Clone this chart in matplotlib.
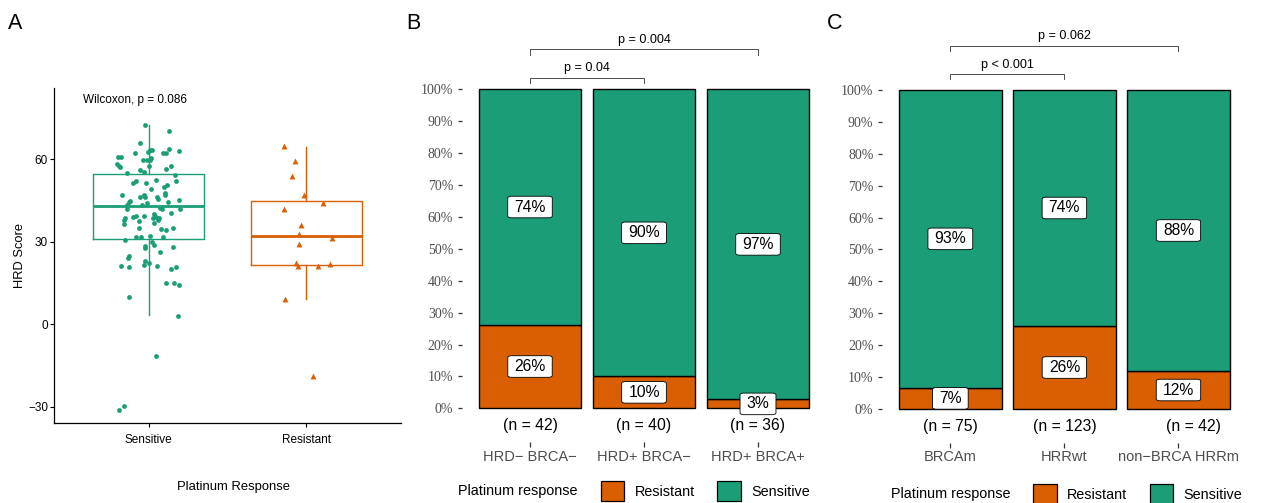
import matplotlib
matplotlib.use("Agg")
import matplotlib.pyplot as plt
from matplotlib.patches import Patch
import numpy as np

plt.rcParams['font.family'] = ['Liberation Sans', 'DejaVu Sans']

GREEN = '#1B9E77'
ORANGE = '#D95F02'
GREY_TXT = '#4D4D4D'

# ---- panel A: HRD score by platinum response ----
a_groups = ['Sensitive', 'Resistant']
sens_hrd = [72.4, 70.1, 65.9, 63.3, 63.2, 62.4, 62.3, 62.3, 63.5, 63.0,
            62.1, 60.6, 60.6, 59.8, 59.6, 59.7, 60.2, 58.1, 57.5, 57.0,
            57.5, 57.5, 56.0, 55.3, 56.2, 54.9, 54.3, 52.1, 51.2, 52.4,
            52.0, 51.4, 50.5, 49.9, 49.2, 46.8, 46.8, 46.2, 46.1, 46.1,
            45.3, 47.7, 47.0, 45.2, 44.8, 44.3, 43.3, 44.1, 44.5, 43.3,
            42.2, 41.7, 41.7, 41.7, 40.3, 39.0, 39.3, 39.3, 40.0, 39.0,
            38.4, 38.7, 37.8, 38.4, 37.8, 37.5, 36.8, 36.3, 34.8, 34.4,
            34.2, 35.0, 31.6, 31.6, 32.1, 31.5, 30.7, 30.0, 28.8, 28.3,
            27.5, 27.9, 26.4, 24.7, 24.1, 23.0, 21.5, 22.1, 21.3, 20.7,
            21.1, 20.8, 20.0, 14.8, 14.8, 14.4, 9.8, 3.0, -11.7, -29.7,
            -31.2]
sens_jit = [-0.022, 0.132, -0.056, 0.008, 0.020, -0.001, 0.094, 0.113, 0.132, 0.193,
            -0.085, -0.195, -0.176, -0.033, -0.011, 0.009, 0.016, -0.201, -0.191, -0.180,
            0.001, 0.142, -0.054, -0.028, 0.111, -0.136, 0.168, -0.081, -0.098, 0.049,
            0.176, -0.018, 0.115, 0.100, 0.014, -0.166, -0.027, -0.022, -0.052, 0.056,
            0.062, 0.104, 0.106, 0.193, -0.115, -0.125, -0.138, -0.009, 0.122, -0.039,
            0.075, 0.084, -0.136, 0.199, 0.142, -0.096, -0.079, -0.030, 0.037, 0.046,
            0.027, 0.066, 0.058, -0.147, -0.155, -0.058, 0.033, -0.159, -0.062, 0.079,
            0.109, 0.153, -0.079, -0.046, 0.009, 0.094, -0.153, 0.022, 0.033, -0.022,
            -0.020, 0.153, 0.071, -0.125, -0.132, -0.022, -0.030, 0.003, -0.178, -0.122,
            0.054, 0.174, 0.141, 0.111, 0.159, 0.195, -0.122, 0.185, 0.049, -0.155,
            -0.189]
res_hrd = [64.8, 59.4, 53.8, 46.9, 44.2, 41.9, 36.2, 32.6, 31.4, 29.3,
           22.2, 21.3, 21.0, 21.7, 9.2, -18.9]
res_jit = [-0.144, -0.072, -0.093, -0.017, 0.103, -0.141, -0.036, -0.046, 0.160, -0.049,
           -0.068, -0.053, 0.072, 0.147, -0.135, 0.040]
box_lo = [3.2, 9.1]
box_q1 = [30.9, 21.6]
box_med = [42.8, 32.1]
box_q3 = [54.5, 44.8]
box_hi = [72.4, 64.5]
a_pval = 'Wilcoxon, p = 0.086'

# ---- panel B / C: platinum response proportions ----
b_groups = ['HRD\u2212 BRCA\u2212', 'HRD+ BRCA\u2212', 'HRD+ BRCA+']
b_n = [42, 40, 36]
b_resistant = [11, 4, 1]
b_pvals = ['p = 0.04', 'p = 0.004']

c_groups = ['BRCAm', 'HRRwt', 'non\u2212BRCA HRRm']
c_n = [75, 123, 42]
c_resistant = [5, 32, 5]
c_pvals = ['p < 0.001', 'p = 0.062']

W, H = 1261, 503
fig = plt.figure(figsize=(W / 100, H / 100), dpi=100)


def px_axes(left, top, right, bottom):
    return fig.add_axes([left / W, 1 - bottom / H, (right - left) / W, (bottom - top) / H])


# ================= A =================
ax = px_axes(54, 88, 401, 423)
xa = np.arange(1, len(a_groups) + 1)
cols = [GREEN, ORANGE]
for i in range(len(a_groups)):
    st = dict(med=box_med[i], q1=box_q1[i], q3=box_q3[i],
              whislo=box_lo[i], whishi=box_hi[i], fliers=[])
    ax.bxp([st], positions=[xa[i]], widths=0.7, showcaps=False, showfliers=False,
           boxprops=dict(color=cols[i], lw=1.0),
           whiskerprops=dict(color=cols[i], lw=1.0),
           medianprops=dict(color=cols[i], lw=2.0))
ax.scatter(xa[0] + np.array(sens_jit), sens_hrd, s=12, color=GREEN,
           marker='o', linewidths=0, zorder=3)
ax.scatter(xa[1] + np.array(res_jit), res_hrd, s=18, color=ORANGE,
           marker='^', linewidths=0, zorder=3)
ax.set_xlim(0.4, 2.6)
ax.set_ylim(-35.9, 85.8)
ax.set_yticks([-30, 0, 30, 60])
ax.set_xticks(xa)
ax.set_xticklabels(a_groups)
ax.tick_params(axis='both', labelsize=8.5, length=3.1, width=0.8, colors='black')
ax.tick_params(axis='x', pad=5)
ax.tick_params(axis='y', pad=1.2)
for s in ['top', 'right']:
    ax.spines[s].set_visible(False)
for s in ['left', 'bottom']:
    ax.spines[s].set_linewidth(0.9)
ax.set_ylabel('HRD Score', fontsize=9.3, labelpad=1.5)
ax.set_xlabel('Platinum Response', fontsize=9.4)
ax.xaxis.set_label_coords(0.516, -0.172)
ax.text(0.584, 81.5, a_pval, ha='left', va='center', fontsize=8.5)


# ================= B / C =================
def prop_panel(ax, groups, n, resistant, pvals, levels, tick_shift, n_shift):
    x = np.arange(1, len(groups) + 1)
    res = np.array(resistant) / np.array(n)
    sens = 1 - res
    ax.bar(x, res, width=0.9, color=ORANGE, edgecolor='black', lw=1.0, zorder=2)
    ax.bar(x, sens, bottom=res, width=0.9, color=GREEN, edgecolor='black', lw=1.0, zorder=2)
    box = dict(boxstyle='round,pad=0.42,rounding_size=0.25', fc='white',
               ec='black', lw=0.6, mutation_aspect=0.5)
    for xi, r, s in zip(x, res, sens):
        ax.text(xi, r + s / 2, f'{round(s * 100):d}%', ha='center', va='center',
                fontsize=11.3, bbox=box, zorder=4)
        ax.text(xi, r / 2, f'{round(r * 100):d}%', ha='center', va='center',
                fontsize=11.3, bbox=box, zorder=4)
    for xi, ni, sh in zip(x, n, n_shift):
        ax.annotate(f'(n = {ni})', xy=(xi, -0.055), xytext=(sh * 0.72, 0),
                    textcoords='offset points', ha='center', va='center', fontsize=11.3)
    # significance brackets
    for (x2, p, lev) in zip([2, 3], pvals, levels):
        drop = 0.016
        ax.plot([1, 1, x2, x2], [lev - drop, lev, lev, lev - drop], color='#333333',
                lw=0.6, clip_on=False)
        ax.annotate(p, xy=((1 + x2) / 2, lev), xytext=(0, 2.5), textcoords='offset points',
                    ha='center', va='bottom', fontsize=9.1, annotation_clip=False)
    ax.set_xlim(0.4, 3.6)
    ax.set_ylim(-0.1056, 1.02)
    yt = np.linspace(0, 1, 11)
    ax.set_yticks(yt)
    ax.set_yticklabels([f'{int(round(v * 100))}%' for v in yt], fontfamily='Liberation Serif',
                       fontsize=10, color=GREY_TXT)
    ax.set_xticks(x)
    ax.set_xticklabels(groups, fontsize=10.5, color=GREY_TXT)
    for lab, sh in zip(ax.get_xticklabels(), tick_shift):
        if sh:
            lab.set_transform(lab.get_transform() +
                              matplotlib.transforms.ScaledTranslation(sh / 100, 0, fig.dpi_scale_trans))
    ax.tick_params(axis='y', length=3.2, width=0.9, color='#333333', pad=2.9)
    ax.tick_params(axis='x', length=3.6, width=0.9, color='#333333', pad=2)
    for s in ax.spines.values():
        s.set_visible(False)


axb = px_axes(461.6, 82.9, 826.4, 442.0)
prop_panel(axb, b_groups, b_n, b_resistant, b_pvals, [1.036, 1.125], [0, -14, 0], [0, 0, 0])
axc = px_axes(881.9, 83.6, 1246.9, 442.7)
prop_panel(axc, c_groups, c_n, c_resistant, c_pvals, [1.049, 1.139], [0, 0, 15], [0, 0, 15])

# legends
handles = [Patch(facecolor=ORANGE, edgecolor='black', lw=0.9),
           Patch(facecolor=GREEN, edgecolor='black', lw=0.9)]
for tx, sx, cy in [(458.3, 601.0, 491.0), (891.0, 1033.3, 494.0)]:
    fig.text(tx / W, 1 - cy / H, 'Platinum response', ha='left', va='center', fontsize=10.4)
    fig.legend(handles, ['Resistant', 'Sensitive'], loc='center left',
               bbox_to_anchor=(sx / W, 1 - cy / H), ncol=2, frameon=False, fontsize=10.4,
               handlelength=1.61, handleheight=1.7, handletextpad=0.74, columnspacing=1.54,
               borderpad=0, borderaxespad=0)

# panel letters
for x0, letter in [(8.3, 'A'), (406, 'B'), (827, 'C')]:
    fig.text(x0 / W, 1 - 29.3 / H, letter, ha='left', va='baseline', fontsize=15.5)

fig.savefig('out.png', dpi=100)
